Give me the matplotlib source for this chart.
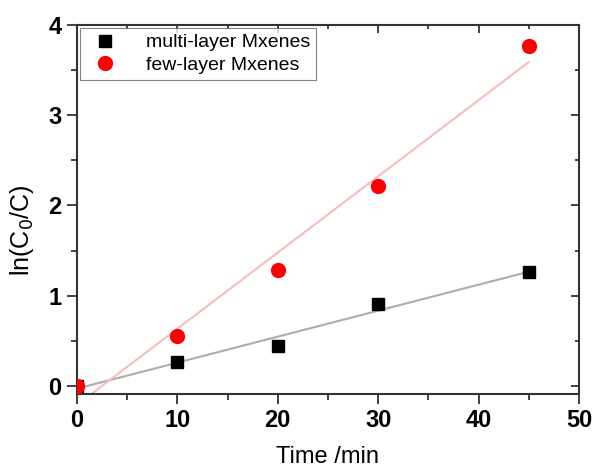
import matplotlib
matplotlib.use("Agg")
import matplotlib.pyplot as plt
import numpy as np
from matplotlib.ticker import MultipleLocator

plt.rcParams["font.family"] = ["Liberation Sans", "DejaVu Sans"]

# data
time_min = [0, 10, 20, 30, 45]
multi_layer = [0.0, 0.26, 0.44, 0.91, 1.26]
few_layer = [0.0, 0.55, 1.28, 2.21, 3.77]

fig = plt.figure(figsize=(5.95, 4.69), dpi=100)
ax = fig.add_axes([0.1294, 0.160, 0.8436, 0.7867])

# linear fits
fit_x = np.array([0, 45])
k_m, b_m = np.polyfit(time_min, multi_layer, 1)
k_f, b_f = np.polyfit(time_min, few_layer, 1)
ax.plot(fit_x, k_m * fit_x + b_m, color="#acacac", linewidth=1.5, zorder=2)
ax.plot(fit_x, k_f * fit_x + b_f, color="#f7bcbc", linewidth=1.5, zorder=2)

ax.plot(time_min, multi_layer, "s", color="black", markersize=9,
        label="multi-layer Mxenes", zorder=3)
ax.plot(time_min, few_layer, "o", color="#ff0000", markersize=10,
        label="few-layer Mxenes", zorder=4)

ax.set_xlim(0, 50)
ax.set_ylim(-0.09, 4)
ax.xaxis.set_major_locator(MultipleLocator(10))
ax.xaxis.set_minor_locator(MultipleLocator(5))
ax.yaxis.set_major_locator(MultipleLocator(1))
ax.yaxis.set_minor_locator(MultipleLocator(0.5))

ax.tick_params(which="both", direction="out", top=False, right=False,
               width=1.3, color="#333333")
ax.tick_params(which="major", length=7, labelsize=17, pad=4)
ax.tick_params(which="minor", length=4)
for lbl in ax.get_xticklabels() + ax.get_yticklabels():
    lbl.set_fontweight("bold")

# inward ticks on top and right via secondary axes
for side in ("top", "right"):
    sec = ax.secondary_xaxis("top") if side == "top" else ax.secondary_yaxis("right")
    axis = sec.xaxis if side == "top" else sec.yaxis
    axis.set_major_locator(MultipleLocator(10 if side == "top" else 1))
    axis.set_minor_locator(MultipleLocator(5 if side == "top" else 0.5))
    sec.tick_params(which="both", direction="in", width=1.3, color="#333333",
                    labelleft=False, labelright=False, labeltop=False, labelbottom=False)
    sec.tick_params(which="major", length=6)
    sec.tick_params(which="minor", length=3)
    for sp in sec.spines.values():
        sp.set_visible(False)

for sp in ax.spines.values():
    sp.set_linewidth(1.5)
    sp.set_color("#333333")

ax.set_xlabel("Time /min", fontsize=17)
ax.xaxis.set_label_coords(0.5, -0.142)
ax.set_ylabel("ln(C$_0$/C)", fontsize=18)
ax.yaxis.set_label_coords(-0.082, 0.445)

leg = ax.legend(loc="upper left", fontsize=14, frameon=True, fancybox=False,
                edgecolor="#666666", borderaxespad=0.15, handletextpad=1.1,
                borderpad=0.3, labelspacing=0.25, handlelength=2.0)
leg.get_frame().set_linewidth(0.8)

fig.savefig("out.png", dpi=100)
